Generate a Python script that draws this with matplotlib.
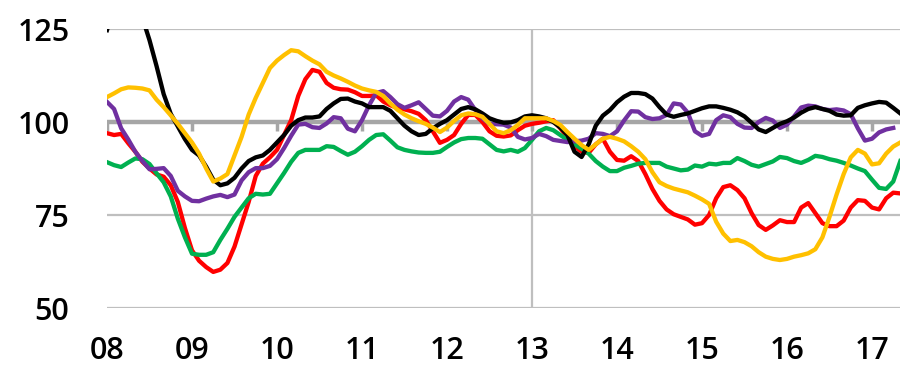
import matplotlib
matplotlib.use("Agg")
import matplotlib.pyplot as plt
import numpy as np

# Monthly index values, Jan 2008 onwards
black = [124.7, 131, 135, 136, 134, 128, 122, 115, 107.5, 102.2, 98.8, 95.4,
         92.5, 91, 88, 84.5, 83, 83.5, 85, 87.5, 89.5, 90.5, 91, 92.5,
         94.5, 96.5, 99, 100.5, 101.2, 101.2, 101.5, 103.5, 105, 106.2, 106.3, 105.5,
         105, 104, 104, 104, 103, 101, 99, 97.5, 96.5, 96.8, 98.3, 99.5,
         100.5, 102, 103.5, 104, 103.4, 102.3, 101, 100.3, 99.8, 99.9, 100.5, 101.5,
         101.8, 101.5, 101, 100, 98.5, 96.5, 92, 90.6, 94, 99, 101.7, 103.2,
         105.3, 106.8, 107.8, 107.8, 107.5, 106.3, 104, 102, 101.4, 101.9, 102.3, 103,
         103.7, 104.2, 104.2, 103.8, 103.3, 102.6, 101.5, 99.8, 98, 97.3, 98.4, 99.5,
         100.2, 101.2, 102.5, 103.5, 104, 103.5, 103, 102, 101.7, 101.8, 103.8, 104.5,
         105, 105.4, 105.2, 103.8, 102.3]

yellow = [106.7, 107.7, 108.8, 109.3, 109.2, 109, 108.5, 106, 104, 101.8, 99.5, 97,
          94.5, 91.5, 87.5, 84, 84.8, 86, 91, 96, 102, 106.5, 110.5, 114.5,
          116.5, 118, 119.3, 119, 117.7, 116.5, 115.5, 113.5, 112.5, 111.7, 110.8, 109.8,
          109, 108.5, 108.1, 107, 105, 103.3, 102, 101, 100.2, 99.5, 98.5, 97.3,
          98.5, 100.3, 101.8, 102.3, 102.1, 101.4, 99.5, 97.5, 97, 97.8, 99.2, 101,
          101, 101, 101, 100.3, 99.2, 97.3, 95.5, 93.8, 92.5, 94, 95.5, 96,
          95.5, 94.8, 93.5, 92, 90, 86.5, 83.8, 82.8, 82.1, 81.6, 81.1, 80.2,
          79.2, 78, 73.2, 70, 68, 68.3, 67.7, 66.6, 65, 63.8, 63.2, 62.9,
          63.2, 63.8, 64.2, 64.7, 65.8, 69, 74.5, 80.5, 86, 90.5, 92.5, 91.5,
          88.6, 88.9, 91.5, 93.4, 94.5]

red = [97, 96.5, 96.8, 94.3, 92, 89.3, 87.5, 85.9, 85.3, 83, 78.5, 71.5,
       65.5, 62.7, 61, 59.7, 60.3, 62.1, 66.5, 72.5, 78.5, 85.5, 88.8, 90.5,
       92.5, 96.5, 100.5, 107, 111.5, 114, 113.5, 110.5, 109.2, 108.8, 108.7, 108,
       107, 107, 107.2, 105.5, 104.5, 103.8, 103.4, 102.9, 102.2, 100.5, 97.5, 94.4,
       95.2, 96.5, 99.5, 101.9, 101.9, 100, 97.5, 96.3, 96.1, 96.4, 97.8, 99,
       99.5, 99.8, 100.2, 100.5, 98.3, 96, 93.5, 92, 91.7, 94, 95.5, 92,
       89.8, 89.6, 90.8, 89.5, 86, 82, 78.8, 76.5, 75.2, 74.5, 73.8, 72.4,
       72.8, 75, 79.5, 82.5, 83, 81.7, 79.5, 75.5, 72.3, 71, 72.2, 73.6,
       73.1, 73.1, 77, 78.2, 75.5, 72.8, 72, 72, 73.5, 77, 79, 78.8,
       77, 76.5, 79.5, 81, 80.8]

green = [89.2, 88.4, 87.9, 89.1, 90.2, 90, 88.7, 86.2, 83.8, 80, 74, 69,
         64.6, 64.3, 64.3, 65, 68.3, 71.3, 74.5, 77, 79.5, 80.7, 80.5, 80.7,
         83.5, 86.3, 89.3, 91.7, 92.5, 92.5, 92.5, 93.5, 93.3, 92.2, 91.2, 92,
         93.5, 95.2, 96.5, 96.7, 95, 93.2, 92.5, 92.1, 91.8, 91.7, 91.7, 92,
         93.3, 94.5, 95.4, 95.7, 95.7, 95.5, 94, 92.5, 92.1, 92.5, 92, 93,
         95.2, 97.5, 98.4, 97.8, 96.5, 95.2, 94, 92.8, 91.5, 89.5, 88, 86.8,
         86.8, 87.7, 88.2, 88.8, 89, 89, 89, 88, 87.5, 87, 87.2, 88.3,
         88, 88.8, 88.6, 89, 89, 90.3, 89.5, 88.5, 88, 88.7, 89.4, 90.6,
         90.3, 89.5, 89, 89.8, 90.9, 90.6, 90, 89.6, 89, 88.3, 87.5, 86.8,
         84.5, 82.3, 82, 84, 89.5]

purple = [105.4, 103.5, 98.3, 95.3, 92, 89.5, 87.3, 87.4, 87.6, 85.5, 81.5, 80,
          78.8, 78.7, 79.4, 80, 80.4, 79.8, 80.5, 84.3, 86.5, 87.6, 87.6, 88.2,
          90, 93, 96.3, 99.3, 99.5, 98.6, 98.4, 99.6, 101.3, 101, 98.2, 97.5,
          100.5, 104.5, 107.8, 108.3, 106.7, 104.8, 103.8, 104.5, 105.3, 103.5, 101.7, 101.5,
          103, 105.5, 106.7, 106, 103.2, 101, 99.5, 99.4, 99.3, 98.5, 96, 95.3,
          95.7, 96.8, 96.2, 95.2, 94.9, 94.6, 94.8, 95, 95.5, 97, 96.8, 96.2,
          97.5, 100.4, 102.9, 102.8, 101.3, 100.8, 101, 101.9, 105, 104.7, 102.5, 97.5,
          96.3, 96.8, 100.5, 101.8, 101.3, 99.5, 98.5, 98.4, 100, 101.1, 100.4, 98.4,
          99.3, 101.5, 103.9, 104.4, 104.2, 103.5, 103.2, 103.4, 103.1, 102.1, 98.3, 95,
          95.5, 97.2, 98, 98.4]

year_labels = ["08", "09", "10", "11", "12", "13", "14", "15", "16", "17"]
y_ticks = [50, 75, 100, 125]

series = [
    (red, "#FF0000"),
    (green, "#00B050"),
    (purple, "#7030A0"),
    (black, "#000000"),
    (yellow, "#FFC000"),
]

plt.rcParams['font.family'] = ['Open Sans', 'DejaVu Sans']

fig = plt.figure(figsize=(9, 3.7), dpi=100)
ax = fig.add_axes([107/900, 62/370, 793/900, 279/370])

year_pos = [12 * i for i in range(len(year_labels))]

# grid lines
for yv in y_ticks:
    if yv != 100:
        ax.axhline(yv, color="#BFBFBF", lw=1.6, zorder=1)
ax.axvline(year_pos[5], color="#BFBFBF", lw=1.6, zorder=1)
# axis line at 100 with tick marks
ax.axhline(100, color="#A6A6A6", lw=3.2, zorder=2)
ax.vlines(year_pos, 97.6, 100, color="#A6A6A6", lw=2.5, zorder=2)

for vals, col in series:
    x = np.arange(len(vals))
    ax.plot(x, vals, color=col, lw=3.1, zorder=3, solid_joinstyle="round")

ax.set_xlim(0, 793 / 85 * 12)
ax.set_ylim(50, 125)
ax.set_yticks(y_ticks)
ax.set_yticklabels([str(v) for v in y_ticks], fontweight="semibold")
ax.set_xticks(year_pos)
ax.set_xticklabels(year_labels, fontweight="semibold")
ax.tick_params(axis="both", length=0, labelsize=22, colors="black")
ax.tick_params(axis="y", pad=27)
ax.tick_params(axis="x", pad=20)
for s in ax.spines.values():
    s.set_visible(False)

fig.savefig("out.png", dpi=100)
